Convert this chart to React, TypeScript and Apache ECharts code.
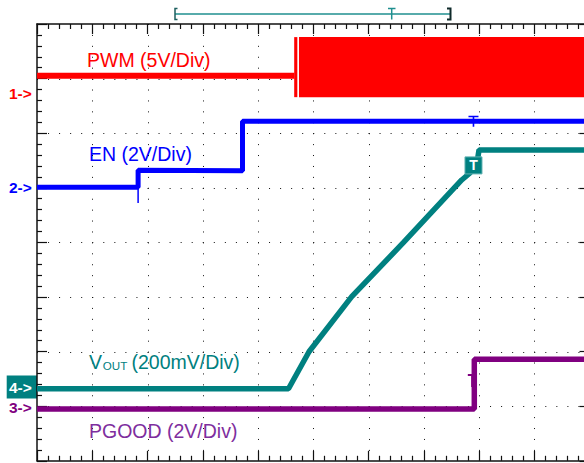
import React, { useEffect, useRef } from "react";
import * as echarts from "echarts";

// Oscilloscope screen: 10 horizontal x 8 vertical divisions
const xDivisions = 10;
const yDivisions = 8;

// Channel 1 — PWM (5V/Div): idle level, then switching envelope
const pwmIdle: number[][] = [[0, 7.05], [4.66, 7.05]];
const pwmLow = 6.66;
const pwmHigh = 7.76;
const pwmBursts: number[][] = [[4.655, 4.712], [4.742, 10]];

// Channel 2 — EN (2V/Div)
const enTrace: number[][] = [[0, 5.01], [1.83, 5.01], [1.83, 5.32], [3.72, 5.31], [3.72, 6.22], [10, 6.22]];
const enGlitch: number[][] = [[1.83, 5.05], [1.83, 4.72]];

// Channel 4 — VOUT (200mV/Div)
const voutTrace: number[][] = [
  [0, 1.32], [4.552, 1.32], [4.923, 1.998], [5.696, 3.006], [6.63, 3.995],
  [7.687, 5.143], [7.837, 5.271], [7.964, 5.454], [8.0, 5.692], [10, 5.692],
];

// Channel 3 — PGOOD (2V/Div)
const pgoodTrace: number[][] = [[0, 0.95], [7.915, 0.95], [7.915, 1.86], [10, 1.86]];

// Trigger / cursor markers
const triggerTime = 7.9;
const voutCursorLevel = 5.41;
const enMarkerLevel = 6.22;
const pgoodMarkerLevel = 1.47;

// Channel ground reference tags
const channelTags = ["1->", "2->", "4->", "3->"];
const channelLevels = [6.72, 5.0, 1.35, 0.97];

const RED = "#ff0000";
const BLUE = "#0000ff";
const TEAL = "#008080";
const PURPLE = "#800080";
const FONT = "'Liberation Sans', Arial, sans-serif";
const TEE = "path://M0,0H10V1.6H5.8V11H4.2V1.6H0Z";

export default function App() {
  const ref = useRef<HTMLDivElement>(null);
  useEffect(() => {
    if (!ref.current) return;
    const chart = echarts.init(ref.current, null, { renderer: "svg" });

    const axisCommon = (pos: string, isX: boolean) => ({
      type: "value",
      position: pos,
      min: 0,
      max: isX ? xDivisions : yDivisions,
      interval: 1,
      axisLine: { show: true, onZero: false, lineStyle: { color: "#111", width: 1.5 } },
      axisTick: { show: true, inside: true, length: 10, lineStyle: { color: "#111", width: 1.2 } },
      minorTick: { show: true, splitNumber: 5, length: 5, lineStyle: { color: "#111", width: 1.2 } },
      axisLabel: { show: false },
      splitLine: { show: false },
      minorSplitLine: { show: false },
    });

    const option: any = {
      animation: false,
      backgroundColor: "#ffffff",
      grid: { left: 37, top: 24, width: 552.5, height: 436.8, containLabel: false, outerBoundsMode: "none" },
      xAxis: [axisCommon("bottom", true), axisCommon("top", true)],
      yAxis: [axisCommon("left", false), axisCommon("right", false)],
      series: [
        {
          type: "line",
          name: "PWM",
          data: pwmIdle,
          symbol: "none",
          lineStyle: { color: RED, width: 6 },
          markArea: {
            silent: true,
            itemStyle: { color: RED, opacity: 1 },
            data: pwmBursts.map(([a, b]) => [{ coord: [a, pwmLow] }, { coord: [b, pwmHigh] }]),
          },
        },
        {
          type: "line",
          name: "EN",
          data: enTrace,
          symbol: "none",
          lineStyle: { color: BLUE, width: 5 },
          markPoint: {
            silent: true,
            symbol: TEE,
            symbolSize: [10, 11],
            itemStyle: { color: BLUE },
            label: { show: false },
            data: [{ coord: [triggerTime, enMarkerLevel] }],
          },
        },
        {
          type: "line",
          name: "EN glitch",
          data: enGlitch,
          symbol: "none",
          lineStyle: { color: BLUE, width: 1.5 },
        },
        {
          type: "line",
          name: "VOUT",
          data: voutTrace,
          symbol: "none",
          lineStyle: { color: TEAL, width: 5.5 },
          markPoint: {
            silent: true,
            symbol: "rect",
            symbolSize: [17, 17],
            itemStyle: { color: TEAL, borderColor: "#5fb0b0", borderWidth: 1 },
            label: {
              show: true,
              position: "inside",
              formatter: "T",
              color: "#fff",
              fontSize: 14,
              fontWeight: "bold",
              fontFamily: FONT,
            },
            data: [{ coord: [triggerTime, voutCursorLevel] }],
          },
        },
        {
          type: "line",
          name: "PGOOD",
          data: pgoodTrace,
          symbol: "none",
          lineStyle: { color: PURPLE, width: 5.5 },
          markPoint: {
            silent: true,
            symbol: TEE,
            symbolSize: [8, 13],
            itemStyle: { color: PURPLE },
            label: { show: false },
            data: [{ coord: [triggerTime - 0.03, pgoodMarkerLevel] }],
          },
        },
      ],
    };
    chart.setOption(option);

    const toPx = (x: number, y: number) =>
      chart.convertToPixel({ xAxisIndex: 0, yAxisIndex: 0 }, [x, y]) as number[];

    const graphics: any[] = [];

    // dotted graticule
    const topLeft = toPx(0, yDivisions);
    const botRight = toPx(xDivisions, 0);
    const stepY = (botRight[1] - topLeft[1]) / (yDivisions * 5);
    const stepX = (botRight[0] - topLeft[0]) / (xDivisions * 5);
    for (let i = 1; i < xDivisions; i++) {
      const px = Math.round(toPx(i, 0)[0]) + 0.5;
      graphics.push({
        type: "line",
        silent: true,
        z: -1,
        shape: { x1: px, y1: Math.round(topLeft[1]), x2: px, y2: botRight[1] },
        style: { stroke: "#111", lineWidth: 1, lineDash: [1, stepY - 1] },
      });
    }
    for (let j = 1; j < yDivisions; j++) {
      const py = Math.round(toPx(0, j)[1]) + 0.5;
      graphics.push({
        type: "line",
        silent: true,
        z: -1,
        shape: { x1: Math.round(topLeft[0]), y1: py, x2: botRight[0], y2: py },
        style: { stroke: "#111", lineWidth: 1, lineDash: [1, stepX - 1] },
      });
    }

    const tagColors = [RED, BLUE, "#ffffff", PURPLE];
    channelTags.forEach((tag, i) => {
      const p = toPx(0, channelLevels[i]);
      if (tag === "4->") {
        graphics.push({
          type: "rect",
          shape: { x: 6.7, y: p[1] - 11.5, width: 30.3, height: 23 },
          style: { fill: TEAL },
        });
      }
      graphics.push({
        type: "text",
        x: 9,
        y: p[1],
        style: {
          text: tag,
          fill: tagColors[i],
          font: `bold 15.5px ${FONT}`,
          verticalAlign: "middle",
          textAlign: "left",
        },
      });
    });

    const label = (text: string, x: number, y: number, color: string, size = 19.5) => ({
      type: "text",
      x,
      y,
      style: { text, fill: color, font: `${size}px ${FONT}`, verticalAlign: "middle", textAlign: "left" },
    });
    graphics.push(label("PWM (5V/Div)", 87, 59.5, RED));
    graphics.push(label("EN (2V/Div)", 89, 153.5, BLUE));
    graphics.push(label("V", 89, 361.7, TEAL));
    graphics.push(label("OUT", 102.8, 365, TEAL, 11.6));
    graphics.push(label("(200mV/Div)", 131.5, 361.7, TEAL));
    graphics.push(label("PGOOD (2V/Div)", 89, 431, "#7e2e9e"));

    // memory position indicator at the top
    graphics.push({ type: "line", shape: { x1: 175, y1: 14, x2: 450, y2: 14 }, style: { stroke: "#1f8f8f", lineWidth: 1.5 } });
    graphics.push({
      type: "polyline",
      shape: { points: [[177.5, 8.5], [175, 8.5], [175, 19.5], [177.5, 19.5]] },
      style: { stroke: "#1d5f5f", lineWidth: 1.5, fill: null },
    });
    graphics.push({
      type: "polyline",
      shape: { points: [[447, 8.5], [450.5, 8.5], [450.5, 19.5], [447, 19.5]] },
      style: { stroke: "#0f2a2a", lineWidth: 2, fill: null },
    });
    graphics.push({ type: "line", shape: { x1: 388, y1: 8.5, x2: 395.5, y2: 8.5 }, style: { stroke: "#1f8f8f", lineWidth: 1.5 } });
    graphics.push({ type: "line", shape: { x1: 391.7, y1: 8.5, x2: 391.7, y2: 19.5 }, style: { stroke: "#1f8f8f", lineWidth: 1.5 } });

    chart.setOption({ graphic: { elements: graphics } });

    return () => chart.dispose();
  }, []);

  return (
    <div
      ref={ref}
      style={{ position: "fixed", left: 0, top: 0, width: 584, height: 463, background: "#fff" }}
    />
  );
}
